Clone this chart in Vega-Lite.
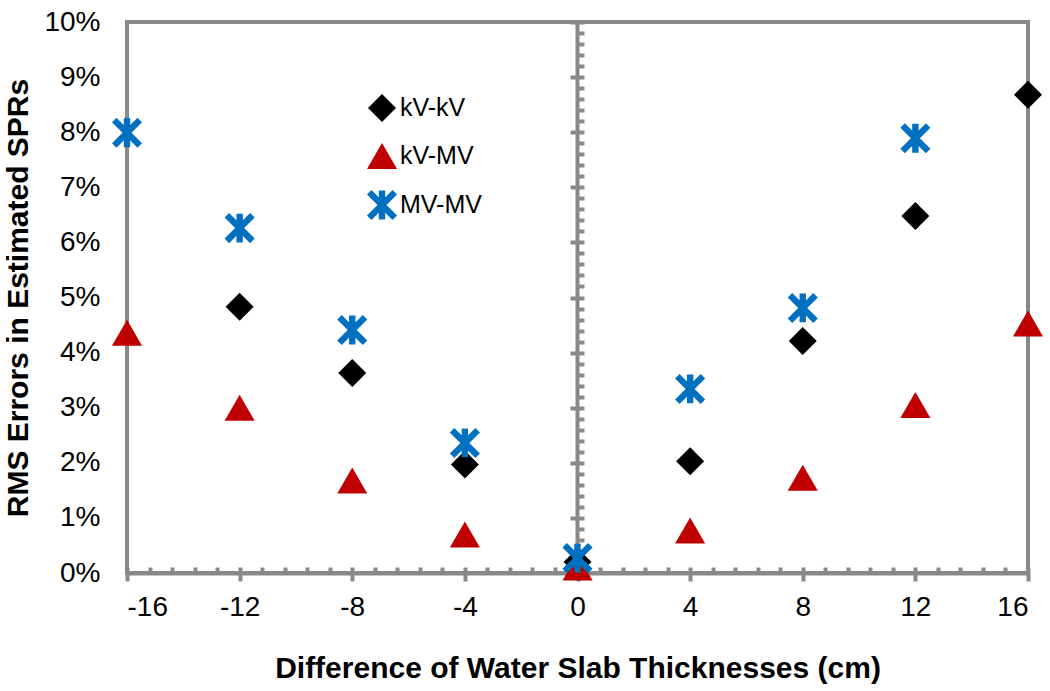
{
  "$schema": "https://vega.github.io/schema/vega-lite/v6.json",
  "width": 901,
  "height": 551,
  "autosize": {"type": "none"},
  "padding": {"left": 127, "top": 22, "right": 22, "bottom": 118},
  "background": "white",
  "config": {
    "view": {"stroke": "#898989", "strokeWidth": 4},
    "font": "Liberation Sans",
    "axis": {"grid": false}
  },
  "data": {
    "values": [
      {"d": -12, "rms": 0.0483, "series": "kV-kV"},
      {"d": -8, "rms": 0.0363, "series": "kV-kV"},
      {"d": -4, "rms": 0.0197, "series": "kV-kV"},
      {"d": 0, "rms": 0.0020, "series": "kV-kV"},
      {"d": 4, "rms": 0.0203, "series": "kV-kV"},
      {"d": 8, "rms": 0.0421, "series": "kV-kV"},
      {"d": 12, "rms": 0.0648, "series": "kV-kV"},
      {"d": 16, "rms": 0.0868, "series": "kV-kV"},
      {"d": -16, "rms": 0.0436, "series": "kV-MV"},
      {"d": -12, "rms": 0.0300, "series": "kV-MV"},
      {"d": -8, "rms": 0.0168, "series": "kV-MV"},
      {"d": -4, "rms": 0.0070, "series": "kV-MV"},
      {"d": 0, "rms": 0.0010, "series": "kV-MV"},
      {"d": 4, "rms": 0.0077, "series": "kV-MV"},
      {"d": 8, "rms": 0.0173, "series": "kV-MV"},
      {"d": 12, "rms": 0.0305, "series": "kV-MV"},
      {"d": 16, "rms": 0.0453, "series": "kV-MV"},
      {"d": -16, "rms": 0.0799, "series": "MV-MV"},
      {"d": -12, "rms": 0.0626, "series": "MV-MV"},
      {"d": -8, "rms": 0.0441, "series": "MV-MV"},
      {"d": -4, "rms": 0.0236, "series": "MV-MV"},
      {"d": 0, "rms": 0.0027, "series": "MV-MV"},
      {"d": 4, "rms": 0.0334, "series": "MV-MV"},
      {"d": 8, "rms": 0.0481, "series": "MV-MV"},
      {"d": 12, "rms": 0.0789, "series": "MV-MV"}
    ]
  },
  "resolve": {"axis": {"x": "independent", "y": "independent"}},
  "layer": [
    {
      "mark": {"type": "point", "filled": true, "opacity": 1, "strokeWidth": 0},
      "encoding": {
        "x": {
          "field": "d", "type": "quantitative",
          "scale": {"domain": [-16, 16], "nice": false, "zero": false},
          "axis": {
            "orient": "bottom",
            "title": "Difference of Water Slab Thicknesses (cm)",
            "titleFont": "Liberation Sans", "titleFontSize": 30, "titleFontWeight": "bold", "titleColor": "#000000",
            "titlePadding": 32,
            "values": [-16, -12, -8, -4, 0, 4, 8, 12, 16],
            "labelExpr": "'' + datum.value",
            "labelFontSize": 28, "labelColor": "#000000", "labelPadding": 12,
            "domain": true, "domainColor": "#898989", "domainWidth": 4,
            "ticks": true, "tickColor": "#898989", "tickWidth": 4, "tickSize": 8
          }
        },
        "y": {
          "field": "rms", "type": "quantitative",
          "scale": {"domain": [0, 0.1], "nice": false, "zero": false},
          "axis": {
            "orient": "left",
            "title": "RMS Errors in Estimated SPRs",
            "titleFont": "Liberation Sans", "titleFontSize": 30, "titleFontWeight": "bold", "titleColor": "#000000",
            "titlePadding": 10,
            "values": [0, 0.01, 0.02, 0.03, 0.04, 0.05, 0.06, 0.07, 0.08, 0.09, 0.1],
            "format": ".0%",
            "labelFontSize": 28, "labelColor": "#000000", "labelPadding": 27,
            "domain": false, "ticks": false
          }
        },
        "color": {
          "field": "series", "type": "nominal",
          "scale": {"domain": ["kV-kV", "kV-MV", "MV-MV"], "range": ["#000000", "#C00000", "#0070C0"]},
          "legend": {
            "title": null, "orient": "none", "legendX": 238, "legendY": 71,
            "labelFontSize": 25, "labelColor": "#000000", "labelFont": "Liberation Sans",
            "symbolSize": 210, "rowPadding": 18, "labelOffset": 1, "padding": 0
          }
        },
        "shape": {
          "field": "series", "type": "nominal",
          "scale": {"domain": ["kV-kV", "kV-MV", "MV-MV"], "range": ["diamond", "triangle-up", "M-0.941,-0.659L0.659,0.941L0.941,0.659L-0.659,-0.941ZM-0.659,0.941L0.941,-0.659L0.659,-0.941L-0.941,0.659ZM-0.2,-0.9L-0.2,0.9L0.2,0.9L0.2,-0.9Z"]},
          "legend": {
            "title": null, "orient": "none", "legendX": 238, "legendY": 71,
            "labelFontSize": 25, "labelColor": "#000000", "labelFont": "Liberation Sans",
            "symbolSize": 210, "rowPadding": 18, "labelOffset": 1, "padding": 0
          }
        },
        "size": {
          "field": "series", "type": "nominal",
          "scale": {"domain": ["kV-kV", "kV-MV", "MV-MV"], "range": [784, 1024, 900]},
          "legend": null
        }
      }
    },
    {
      "mark": {"type": "point", "opacity": 0},
      "encoding": {
        "x": {
          "field": "d", "type": "quantitative",
          "axis": {
            "orient": "bottom", "title": null, "labels": false, "domain": false,
            "values": [-16, -15.2, -14.4, -13.6, -12.8, -12, -11.2, -10.4, -9.6, -8.8, -8, -7.2, -6.4, -5.6, -4.8, -4, -3.2, -2.4, -1.6, -0.8, 0, 0.8, 1.6, 2.4, 3.2, 4, 4.8, 5.6, 6.4, 7.2, 8, 8.8, 9.6, 10.4, 11.2, 12, 12.8, 13.6, 14.4, 15.2, 16],
            "ticks": true, "tickColor": "#898989", "tickWidth": 4, "tickSize": -6
          }
        },
        "y": {
          "field": "rms", "type": "quantitative",
          "axis": {
            "orient": "left", "title": null, "labels": false, "offset": -450,
            "domain": true, "domainColor": "#898989", "domainWidth": 4,
            "values": [0, 0.01, 0.02, 0.03, 0.04, 0.05, 0.06, 0.07, 0.08, 0.09, 0.1],
            "ticks": true, "tickColor": "#898989", "tickWidth": 4, "tickSize": 7
          }
        }
      }
    },
    {
      "mark": {"type": "point", "opacity": 0},
      "encoding": {
        "x": {"field": "d", "type": "quantitative", "axis": null},
        "y": {
          "field": "rms", "type": "quantitative",
          "axis": {
            "orient": "left", "title": null, "labels": false, "offset": -450, "domain": false,
            "values": [0, 0.002, 0.004, 0.006, 0.008, 0.01, 0.012, 0.014, 0.016, 0.018, 0.02, 0.022, 0.024, 0.026, 0.028, 0.03, 0.032, 0.034, 0.036, 0.038, 0.04, 0.042, 0.044, 0.046, 0.048, 0.05, 0.052, 0.054, 0.056, 0.058, 0.06, 0.062, 0.064, 0.066, 0.068, 0.07, 0.072, 0.074, 0.076, 0.078, 0.08, 0.082, 0.084, 0.086, 0.088, 0.09, 0.092, 0.094, 0.096, 0.098, 0.1],
            "ticks": true, "tickColor": "#898989", "tickWidth": 4, "tickSize": -7
          }
        }
      }
    }
  ]
}
